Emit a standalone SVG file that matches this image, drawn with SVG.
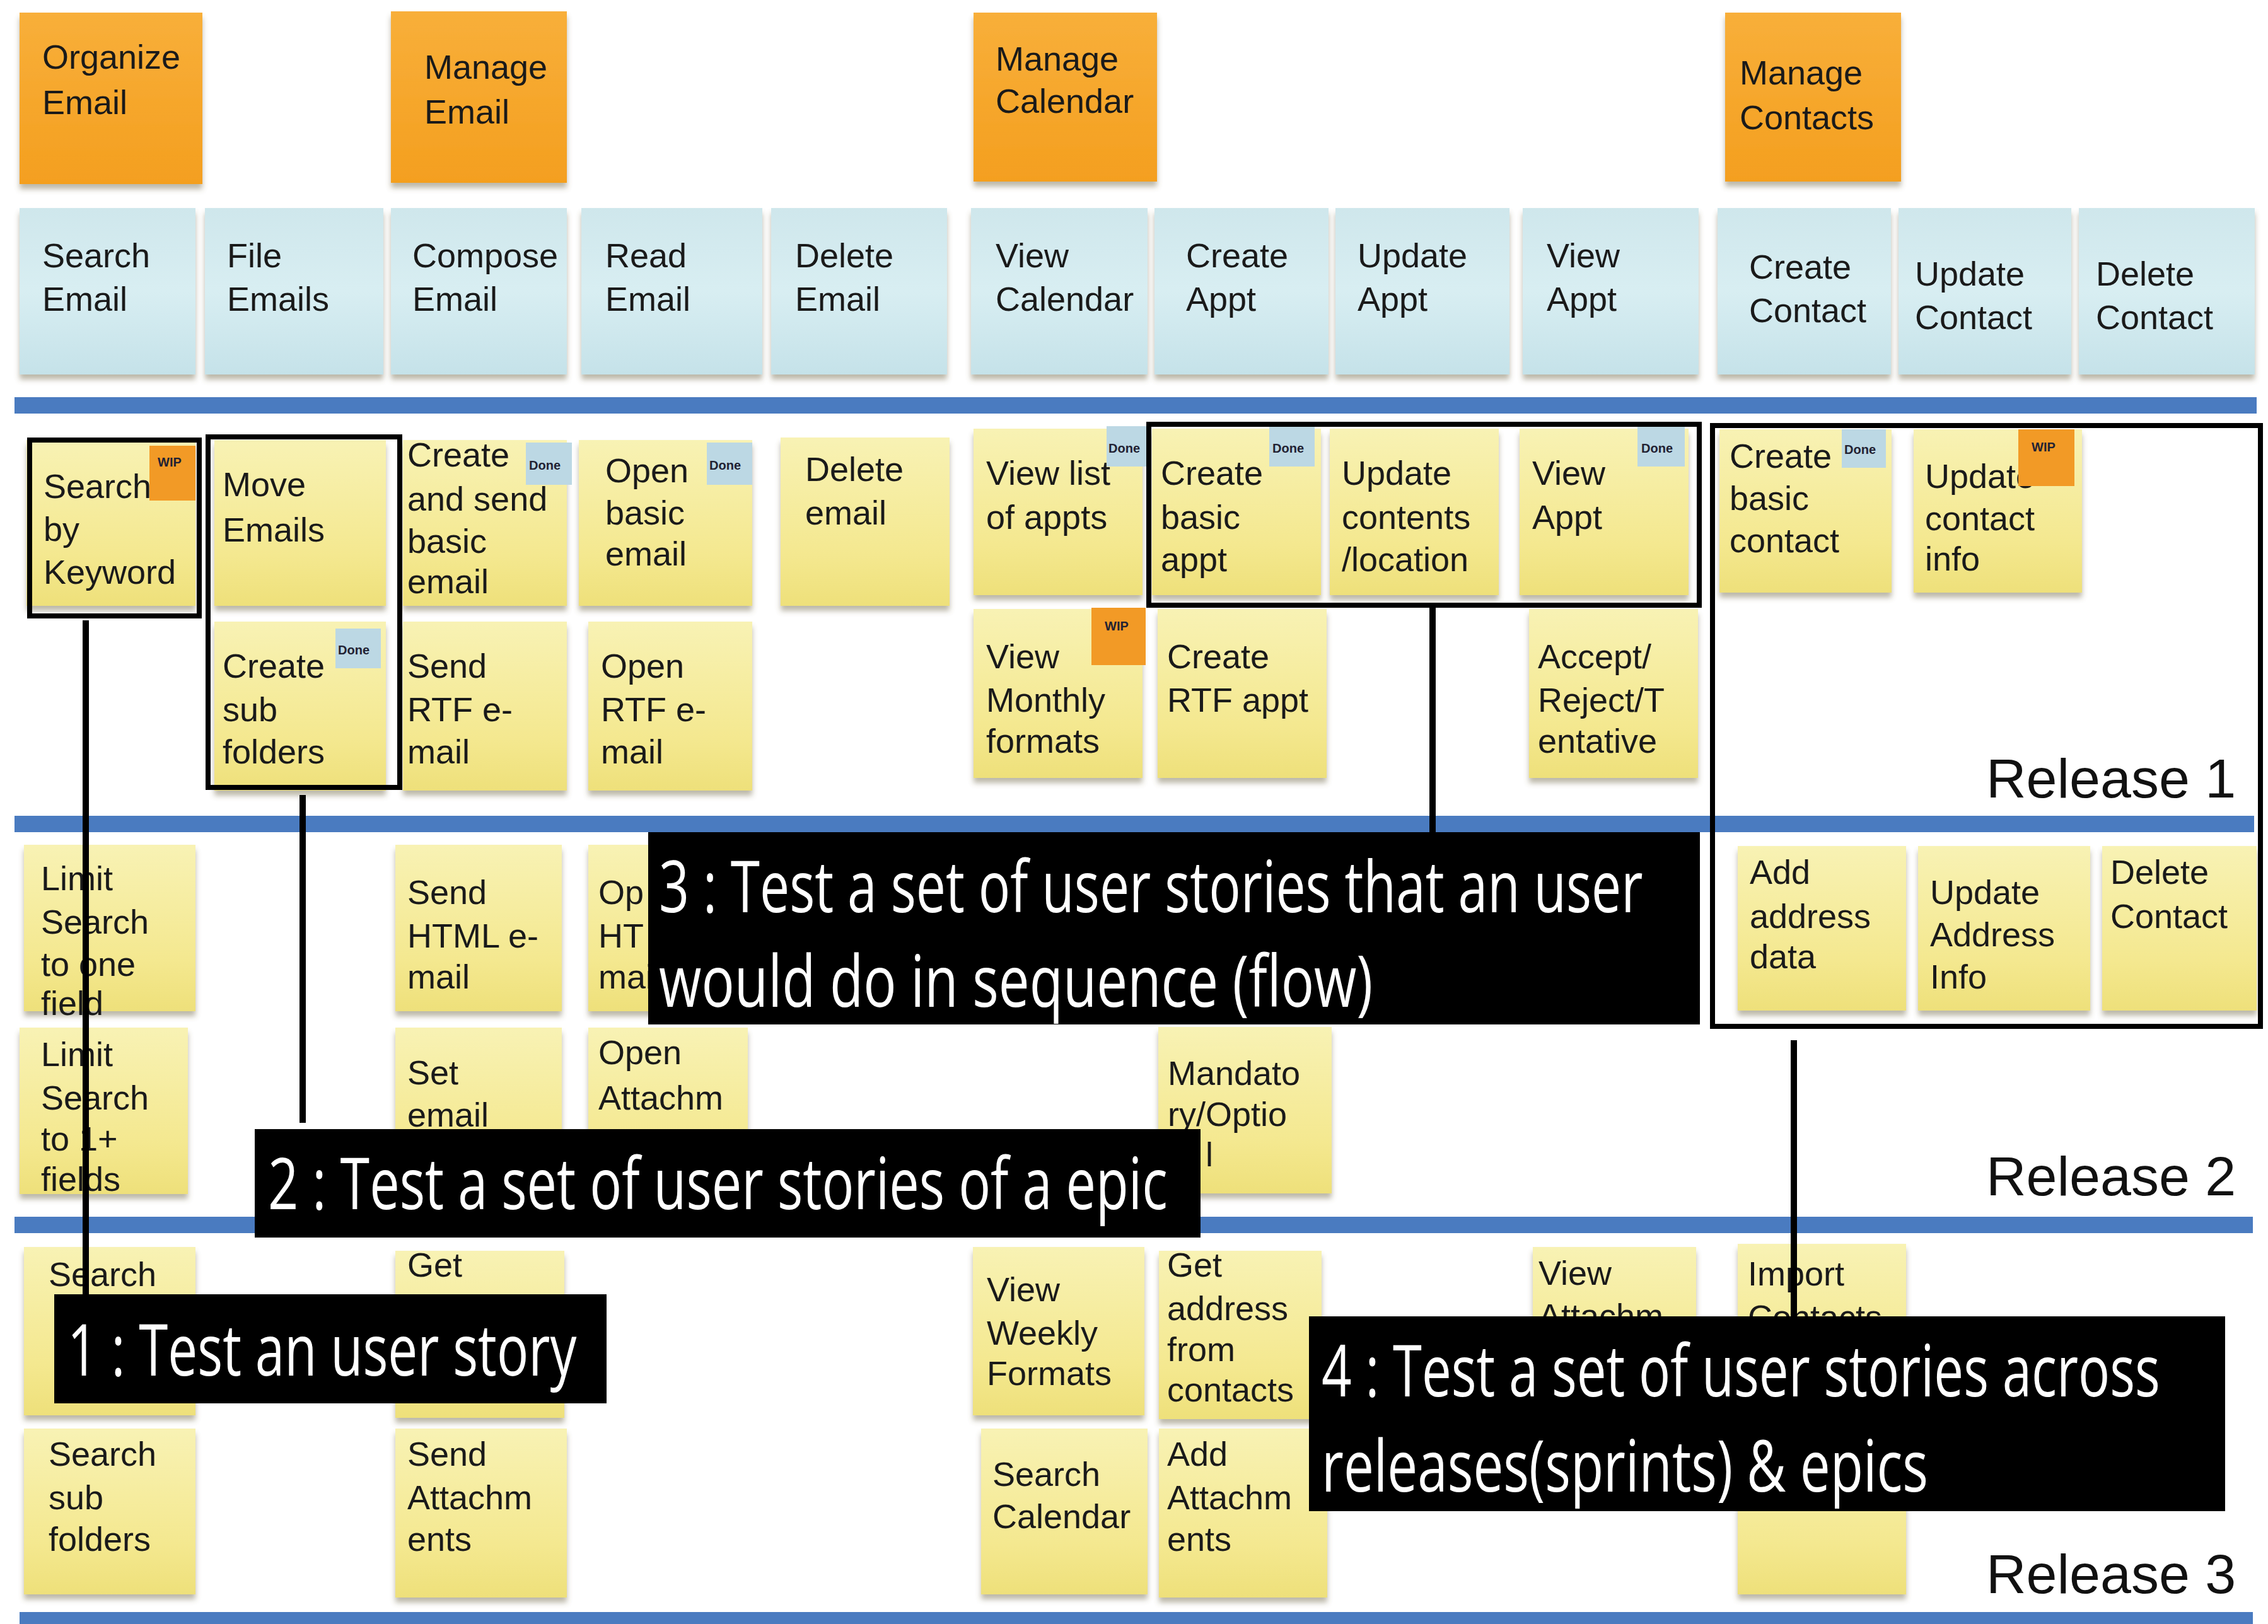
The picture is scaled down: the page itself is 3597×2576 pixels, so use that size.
<svg xmlns="http://www.w3.org/2000/svg" width="3597" height="2576" viewBox="0 0 3597 2576">
<defs>
<linearGradient id="gy" x1="0" y1="0" x2="0" y2="1"><stop offset="0" stop-color="#f8f2b4"/><stop offset="0.7" stop-color="#f4e88f"/><stop offset="1" stop-color="#eee07a"/></linearGradient>
<linearGradient id="gb" x1="0" y1="0" x2="0" y2="1"><stop offset="0" stop-color="#cfe7ec"/><stop offset="0.5" stop-color="#d8eef2"/><stop offset="1" stop-color="#c5e2e9"/></linearGradient>
<linearGradient id="go" x1="0" y1="0" x2="0" y2="1"><stop offset="0" stop-color="#f8af3a"/><stop offset="1" stop-color="#f49f1f"/></linearGradient>
<filter id="sh" x="-5%" y="-5%" width="110%" height="118%"><feDropShadow dx="0" dy="8" stdDeviation="4" flood-color="#6b6440" flood-opacity="0.45"/></filter>
<style>
.y{fill:url(#gy);filter:url(#sh)}
.b{fill:url(#gb);filter:url(#sh)}
.o{fill:url(#go);filter:url(#sh)}
.t{font-family:"Liberation Sans",Arial,sans-serif;font-size:54px;fill:#1a1a1a}
.done{fill:#bcd8e4}
.wip{fill:#f29a26}
.tt{font-family:"Liberation Sans",Arial,sans-serif;font-size:20px;fill:#223;font-weight:bold}
.bar{fill:#4a7bc0}
.frame{fill:none;stroke:#000;stroke-width:8}
.conn{stroke:#000;stroke-width:10;fill:none}
.cbox{fill:#000}
.ct{font-family:"Open Sans","Liberation Sans",sans-serif;font-size:114px;fill:#fff}
.rel{font-family:"Liberation Sans",Arial,sans-serif;font-size:88px;fill:#111}
</style>
</defs>
<rect width="3597" height="2576" fill="#ffffff"/>
<g id="bars">
<rect class="bar" x="23" y="630" width="3556" height="26"/>
<rect class="bar" x="23" y="1294" width="3552" height="26"/>
<rect class="bar" x="23" y="1930" width="3550" height="26"/>
<rect class="bar" x="31" y="2557" width="3542" height="19"/>
</g>
<g id="epics">
<g id="e1"><rect class="o" x="31" y="20" width="290" height="272"/><text class="t"><tspan x="67" y="109">Organize</tspan><tspan x="67" y="181">Email</tspan></text></g>
<g id="e2"><rect class="o" x="620" y="18" width="279" height="272"/><text class="t"><tspan x="673" y="125">Manage</tspan><tspan x="673" y="196">Email</tspan></text></g>
<g id="e3"><rect class="o" x="1544" y="20" width="291" height="268"/><text class="t"><tspan x="1579" y="112">Manage</tspan><tspan x="1579" y="179">Calendar</tspan></text></g>
<g id="e4"><rect class="o" x="2736" y="20" width="279" height="268"/><text class="t"><tspan x="2759" y="134">Manage</tspan><tspan x="2759" y="205">Contacts</tspan></text></g>
</g>
<g id="activities">
<g id="a1"><rect class="b" x="31" y="330" width="279" height="264"/><text class="t"><tspan x="67" y="424">Search</tspan><tspan x="67" y="493">Email</tspan></text></g>
<g id="a2"><rect class="b" x="325" y="330" width="283" height="264"/><text class="t"><tspan x="360" y="424">File</tspan><tspan x="360" y="493">Emails</tspan></text></g>
<g id="a3"><rect class="b" x="620" y="330" width="279" height="264"/><text class="t"><tspan x="654" y="424">Compose</tspan><tspan x="654" y="493">Email</tspan></text></g>
<g id="a4"><rect class="b" x="922" y="330" width="287" height="264"/><text class="t"><tspan x="960" y="424">Read</tspan><tspan x="960" y="493">Email</tspan></text></g>
<g id="a5"><rect class="b" x="1223" y="330" width="279" height="264"/><text class="t"><tspan x="1261" y="424">Delete</tspan><tspan x="1261" y="493">Email</tspan></text></g>
<g id="a6"><rect class="b" x="1540" y="330" width="280" height="264"/><text class="t"><tspan x="1579" y="424">View</tspan><tspan x="1579" y="493">Calendar</tspan></text></g>
<g id="a7"><rect class="b" x="1831" y="330" width="276" height="264"/><text class="t"><tspan x="1881" y="424">Create</tspan><tspan x="1881" y="493">Appt</tspan></text></g>
<g id="a8"><rect class="b" x="2118" y="330" width="276" height="264"/><text class="t"><tspan x="2153" y="424">Update</tspan><tspan x="2153" y="493">Appt</tspan></text></g>
<g id="a9"><rect class="b" x="2415" y="330" width="279" height="264"/><text class="t"><tspan x="2453" y="424">View</tspan><tspan x="2453" y="493">Appt</tspan></text></g>
<g id="a10"><rect class="b" x="2724" y="330" width="275" height="264"/><text class="t"><tspan x="2774" y="442">Create</tspan><tspan x="2774" y="511">Contact</tspan></text></g>
<g id="a11"><rect class="b" x="3011" y="330" width="274" height="264"/><text class="t"><tspan x="3037" y="453">Update</tspan><tspan x="3037" y="522">Contact</tspan></text></g>
<g id="a12"><rect class="b" x="3297" y="330" width="279" height="264"/><text class="t"><tspan x="3324" y="453">Delete</tspan><tspan x="3324" y="522">Contact</tspan></text></g>
</g>
<g id="release1">
<g id="s1"><rect class="y" x="42" y="698" width="268" height="263"/><text class="t"><tspan x="69" y="790">Search</tspan><tspan x="69" y="858">by</tspan><tspan x="69" y="926">Keyword</tspan></text><rect class="wip" x="237" y="707" width="73" height="87"/><text class="tt" x="250" y="740">WIP</text></g>
<g id="s2"><rect class="y" x="340" y="698" width="272" height="263"/><text class="t"><tspan x="353" y="787">Move</tspan><tspan x="353" y="859">Emails</tspan></text></g>
<g id="s3"><rect class="y" x="639" y="698" width="260" height="263"/><text class="t"><tspan x="646" y="740">Create</tspan><tspan x="646" y="810">and send</tspan><tspan x="646" y="877">basic</tspan><tspan x="646" y="941">email</tspan></text><rect class="done" x="834" y="702" width="73" height="67"/><text class="tt" x="839" y="745">Done</text></g>
<g id="s4"><rect class="y" x="918" y="698" width="275" height="263"/><text class="t"><tspan x="960" y="765">Open</tspan><tspan x="960" y="832">basic</tspan><tspan x="960" y="897">email</tspan></text><rect class="done" x="1121" y="702" width="72" height="67"/><text class="tt" x="1125" y="745">Done</text></g>
<g id="s5"><rect class="y" x="1238" y="694" width="268" height="267"/><text class="t"><tspan x="1277" y="763">Delete</tspan><tspan x="1277" y="832">email</tspan></text></g>
<g id="s6"><rect class="y" x="1544" y="680" width="268" height="264"/><text class="t"><tspan x="1564" y="769">View list</tspan><tspan x="1564" y="839">of appts</tspan></text><rect class="done" x="1755" y="676" width="67" height="64"/><text class="tt" x="1758" y="718">Done</text></g>
<g id="s7"><rect class="y" x="1827" y="680" width="268" height="264"/><text class="t"><tspan x="1841" y="769">Create</tspan><tspan x="1841" y="839">basic</tspan><tspan x="1841" y="906">appt</tspan></text><rect class="done" x="2013" y="676" width="72" height="64"/><text class="tt" x="2018" y="718">Done</text></g>
<g id="s8"><rect class="y" x="2109" y="680" width="268" height="264"/><text class="t"><tspan x="2128" y="769">Update</tspan><tspan x="2128" y="839">contents</tspan><tspan x="2128" y="906">/location</tspan></text></g>
<g id="s9"><rect class="y" x="2410" y="680" width="268" height="264"/><text class="t"><tspan x="2430" y="769">View</tspan><tspan x="2430" y="839">Appt</tspan></text><rect class="done" x="2597" y="676" width="75" height="64"/><text class="tt" x="2603" y="718">Done</text></g>
<g id="s10"><rect class="y" x="2727" y="681" width="273" height="259"/><text class="t"><tspan x="2743" y="742">Create</tspan><tspan x="2743" y="809">basic</tspan><tspan x="2743" y="876">contact</tspan></text><rect class="done" x="2921" y="681" width="70" height="61"/><text class="tt" x="2925" y="720">Done</text></g>
<g id="s11"><rect class="y" x="3035" y="681" width="267" height="259"/><text class="t"><tspan x="3053" y="774">Update</tspan><tspan x="3053" y="841">contact</tspan><tspan x="3053" y="905">info</tspan></text><rect class="wip" x="3201" y="681" width="89" height="90"/><text class="tt" x="3222" y="716">WIP</text></g>
<g id="s12"><rect class="y" x="340" y="986" width="272" height="268"/><text class="t"><tspan x="353" y="1075">Create</tspan><tspan x="353" y="1144">sub</tspan><tspan x="353" y="1211">folders</tspan></text><rect class="done" x="532" y="997" width="72" height="63"/><text class="tt" x="536" y="1038">Done</text></g>
<g id="s13"><rect class="y" x="639" y="986" width="260" height="268"/><text class="t"><tspan x="646" y="1075">Send</tspan><tspan x="646" y="1144">RTF e-</tspan><tspan x="646" y="1211">mail</tspan></text></g>
<g id="s14"><rect class="y" x="933" y="986" width="260" height="268"/><text class="t"><tspan x="953" y="1075">Open</tspan><tspan x="953" y="1144">RTF e-</tspan><tspan x="953" y="1211">mail</tspan></text></g>
<g id="s15"><rect class="y" x="1544" y="966" width="268" height="268"/><text class="t"><tspan x="1564" y="1060">View</tspan><tspan x="1564" y="1129">Monthly</tspan><tspan x="1564" y="1194">formats</tspan></text><rect class="wip" x="1731" y="964" width="86" height="91"/><text class="tt" x="1752" y="1000">WIP</text></g>
<g id="s16"><rect class="y" x="1836" y="966" width="268" height="268"/><text class="t"><tspan x="1851" y="1060">Create</tspan><tspan x="1851" y="1129">RTF appt</tspan></text></g>
<g id="s17"><rect class="y" x="2425" y="966" width="268" height="268"/><text class="t"><tspan x="2439" y="1060">Accept/</tspan><tspan x="2439" y="1129">Reject/T</tspan><tspan x="2439" y="1194">entative</tspan></text></g>
<text class="rel" x="3150" y="1265">Release 1</text>
</g>
<g id="release2">
<g id="r1"><rect class="y" x="38" y="1340" width="272" height="264"/><text class="t"><tspan x="65" y="1412">Limit</tspan><tspan x="65" y="1481">Search</tspan><tspan x="65" y="1548">to one</tspan><tspan x="65" y="1610">field</tspan></text></g>
<g id="r2"><rect class="y" x="31" y="1630" width="267" height="264"/><text class="t"><tspan x="65" y="1691">Limit</tspan><tspan x="65" y="1760">Search</tspan><tspan x="65" y="1825">to 1+</tspan><tspan x="65" y="1889">fields</tspan></text></g>
<g id="r3"><rect class="y" x="627" y="1340" width="264" height="264"/><text class="t"><tspan x="646" y="1434">Send</tspan><tspan x="646" y="1503">HTML e-</tspan><tspan x="646" y="1568">mail</tspan></text></g>
<g id="r4"><rect class="y" x="933" y="1340" width="260" height="264"/><text class="t"><tspan x="949" y="1434">Op</tspan><tspan x="949" y="1503">HT</tspan><tspan x="949" y="1568">mai</tspan></text></g>
<g id="r5"><rect class="y" x="627" y="1630" width="264" height="270"/><text class="t"><tspan x="646" y="1720">Set</tspan><tspan x="646" y="1787">email</tspan></text></g>
<g id="r6"><rect class="y" x="933" y="1630" width="253" height="270"/><text class="t"><tspan x="949" y="1688">Open</tspan><tspan x="949" y="1760">Attachm</tspan></text></g>
<g id="r7"><rect class="y" x="1837" y="1629" width="275" height="264"/><text class="t"><tspan x="1852" y="1721">Mandato</tspan><tspan x="1852" y="1786">ry/Optio</tspan><tspan x="1912" y="1850">l</tspan></text></g>
<g id="r8"><rect class="y" x="2756" y="1342" width="267" height="261"/><text class="t"><tspan x="2775" y="1402">Add</tspan><tspan x="2775" y="1472">address</tspan><tspan x="2775" y="1536">data</tspan></text></g>
<g id="r9"><rect class="y" x="3042" y="1342" width="273" height="261"/><text class="t"><tspan x="3061" y="1434">Update</tspan><tspan x="3061" y="1501">Address</tspan><tspan x="3061" y="1568">Info</tspan></text></g>
<g id="r10"><rect class="y" x="3334" y="1342" width="245" height="261"/><text class="t"><tspan x="3347" y="1402">Delete</tspan><tspan x="3347" y="1472">Contact</tspan></text></g>
<text class="rel" x="3150" y="1896">Release 2</text>
</g>
<g id="release3">
<g id="q1"><rect class="y" x="38" y="1978" width="272" height="267"/><text class="t" x="77" y="2040">Search</text></g>
<g id="q2"><rect class="y" x="38" y="2266" width="272" height="263"/><text class="t"><tspan x="77" y="2325">Search</tspan><tspan x="77" y="2394">sub</tspan><tspan x="77" y="2460">folders</tspan></text></g>
<g id="q3"><rect class="y" x="627" y="1984" width="268" height="265"/><text class="t" x="646" y="2025">Get</text></g>
<g id="q4"><rect class="y" x="627" y="2266" width="272" height="268"/><text class="t"><tspan x="646" y="2325">Send</tspan><tspan x="646" y="2394">Attachm</tspan><tspan x="646" y="2460">ents</tspan></text></g>
<g id="q5"><rect class="y" x="1543" y="1978" width="272" height="267"/><text class="t"><tspan x="1565" y="2064">View</tspan><tspan x="1565" y="2133">Weekly</tspan><tspan x="1565" y="2197">Formats</tspan></text></g>
<g id="q6"><rect class="y" x="1838" y="1984" width="258" height="267"/><text class="t"><tspan x="1851" y="2025">Get</tspan><tspan x="1851" y="2094">address</tspan><tspan x="1851" y="2159">from</tspan><tspan x="1851" y="2223">contacts</tspan></text></g>
<g id="q7"><rect class="y" x="1556" y="2266" width="264" height="263"/><text class="t"><tspan x="1574" y="2357">Search</tspan><tspan x="1574" y="2424">Calendar</tspan></text></g>
<g id="q8"><rect class="y" x="1838" y="2266" width="267" height="268"/><text class="t"><tspan x="1851" y="2325">Add</tspan><tspan x="1851" y="2394">Attachm</tspan><tspan x="1851" y="2460">ents</tspan></text></g>
<g id="q9"><rect class="y" x="2431" y="1978" width="259" height="267"/><text class="t"><tspan x="2440" y="2038">View</tspan><tspan x="2440" y="2106">Attachm</tspan></text></g>
<g id="q10"><rect class="y" x="2756" y="1973" width="267" height="272"/><text class="t"><tspan x="2772" y="2039">Import</tspan><tspan x="2772" y="2108">Contacts</tspan></text></g>
<g id="q11"><rect class="y" x="2756" y="2266" width="267" height="263"/></g>
<text class="rel" x="3150" y="2527">Release 3</text>
</g>
<g id="frames">
<rect id="f1" class="frame" x="47" y="698" width="269" height="279"/>
<rect id="f2" class="frame" x="330" y="693" width="304" height="556"/>
<rect id="f3" class="frame" x="1822" y="673" width="873" height="287"/>
<rect id="f4" class="frame" x="2716" y="675" width="869" height="953"/>
</g>
<g id="connectors">
<line class="conn" x1="136" y1="984" x2="136" y2="2053"/>
<line class="conn" x1="480" y1="1261" x2="480" y2="1781"/>
<line class="conn" x1="2272" y1="960" x2="2272" y2="1320"/>
<line class="conn" x1="2845" y1="1650" x2="2845" y2="2088"/>
</g>
<g id="callout3"><rect class="cbox" x="1028" y="1320" width="1668" height="305"/>
<g transform="translate(1045,1447) scale(0.74,1)"><text class="ct" x="0" y="0" textLength="2109" lengthAdjust="spacingAndGlyphs">3 : Test a set of user stories that an user</text></g>
<g transform="translate(1045,1597) scale(0.74,1)"><text class="ct" x="0" y="0" textLength="1530" lengthAdjust="spacingAndGlyphs">would do in sequence (flow)</text></g></g>
<g id="callout2"><rect class="cbox" x="404" y="1791" width="1500" height="172"/>
<g transform="translate(425,1918) scale(0.74,1)"><text class="ct" x="0" y="0" textLength="1928" lengthAdjust="spacingAndGlyphs">2 : Test a set of user stories of a epic</text></g></g>
<g id="callout1"><rect class="cbox" x="86" y="2053" width="876" height="173"/>
<g transform="translate(107,2182) scale(0.74,1)"><text class="ct" x="0" y="0" textLength="1091" lengthAdjust="spacingAndGlyphs">1 : Test an user story</text></g></g>
<g id="callout4"><rect class="cbox" x="2076" y="2088" width="1453" height="309"/>
<g transform="translate(2096,2215) scale(0.74,1)"><text class="ct" x="0" y="0" textLength="1797" lengthAdjust="spacingAndGlyphs">4 : Test a set of user stories across</text></g>
<g transform="translate(2096,2366) scale(0.74,1)"><text class="ct" x="0" y="0" textLength="1300" lengthAdjust="spacingAndGlyphs">releases(sprints) &amp; epics</text></g></g>
</svg>
